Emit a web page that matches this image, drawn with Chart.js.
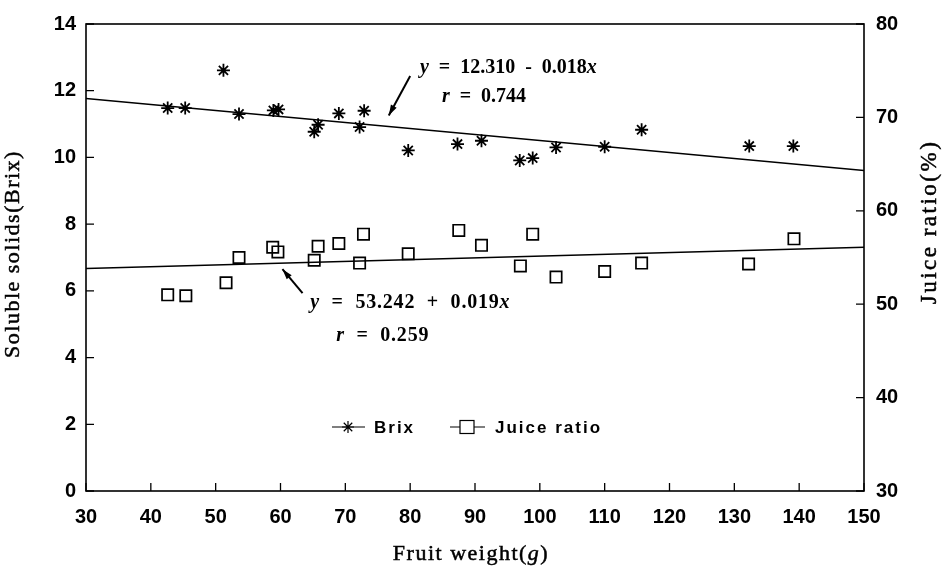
<!DOCTYPE html>
<html>
<head>
<meta charset="utf-8">
<script src="https://cdn.jsdelivr.net/npm/chart.js@4.4.1/dist/chart.umd.min.js"></script>
<style>
  html, body { margin: 0; padding: 0; background: #fff; }
  #wrap { width: 946px; height: 570px; }
</style>
</head>
<body>
<div id="wrap"><canvas id="fruitChart" width="946" height="570"></canvas></div>
<script>
// fruit weight (g) for each sample
const brixWeight  = [42.6, 45.3, 51.2, 53.6, 58.9, 59.7, 65.2, 65.8, 69.0, 72.2, 72.9, 79.7, 87.3, 91.0, 96.9, 98.9, 102.5, 110.0, 115.7, 132.3, 139.1];
const brixValue   = [11.48, 11.48, 12.61, 11.30, 11.41, 11.44, 10.77, 10.98, 11.32, 10.91, 11.40, 10.21, 10.40, 10.50, 9.91, 9.98, 10.30, 10.32, 10.83, 10.34, 10.34];
const juiceWeight = [42.6, 45.4, 51.6, 53.6, 58.8, 59.6, 65.2, 65.8, 69.0, 72.8, 72.2, 79.7, 87.5, 91.0, 97.0, 98.9, 102.5, 110.0, 115.7, 132.2, 139.2];
const juiceValue  = [51.0, 50.9, 52.3, 55.0, 56.1, 55.6, 54.7, 56.2, 56.5, 57.5, 54.4, 55.4, 57.9, 56.3, 54.1, 57.5, 52.9, 53.5, 54.4, 54.3, 57.0];

// regression line end points (x = 30 and x = 150)
const fitX      = [30, 150];
const brixFit   = [11.77, 9.61];
const juiceFit  = [53.81, 56.09];

const xTicks     = [30, 40, 50, 60, 70, 80, 90, 100, 110, 120, 130, 140, 150];
const brixTicks  = [0, 2, 4, 6, 8, 10, 12, 14];
const juiceTicks = [30, 40, 50, 60, 70, 80];

const toPoints = (xs, ys) => xs.map((v, i) => ({ x: v, y: ys[i] }));

const tickFont = { family: 'Liberation Sans', size: 20, weight: 'bold' };

// write a text run made of [text, italic] pieces
function drawRuns(ctx, runs, x, y, size) {
    runs.forEach(([txt, ital]) => {
        ctx.font = (ital ? 'italic ' : '') + 'bold ' + size + 'px "Liberation Serif"';
        ctx.fillText(txt, x, y);
        x += ctx.measureText(txt).width;
    });
}

// serif title, drawn a little heavier like the scanned print
function heavyText(ctx, txt, x, y) {
    ctx.fillText(txt, x, y);
    ctx.strokeText(txt, x, y);
}

function arrow(ctx, x0, y0, x1, y1) {
    const ang = Math.atan2(y1 - y0, x1 - x0);
    ctx.beginPath();
    ctx.moveTo(x0, y0);
    ctx.lineTo(x1, y1);
    ctx.stroke();
    ctx.beginPath();
    ctx.moveTo(x1, y1);
    ctx.lineTo(x1 - 11 * Math.cos(ang - 0.3), y1 - 11 * Math.sin(ang - 0.3));
    ctx.lineTo(x1 - 11 * Math.cos(ang + 0.3), y1 - 11 * Math.sin(ang + 0.3));
    ctx.closePath();
    ctx.fill();
}

const framePlugin = {
    id: 'framePlugin',
    afterDraw(chart) {
        const { ctx, chartArea: a, scales } = chart;
        const { x, y, y1 } = scales;
        ctx.save();
        ctx.strokeStyle = '#000';
        ctx.fillStyle = '#000';

        // box
        ctx.lineWidth = 1.6;
        ctx.strokeRect(a.left, a.top, a.right - a.left, a.bottom - a.top);

        // inward ticks
        ctx.lineWidth = 1.3;
        ctx.beginPath();
        x.ticks.forEach(t => {
            const px = x.getPixelForValue(t.value);
            ctx.moveTo(px, a.bottom); ctx.lineTo(px, a.bottom - 8);
        });
        y.ticks.forEach(t => {
            const py = y.getPixelForValue(t.value);
            ctx.moveTo(a.left, py); ctx.lineTo(a.left + 8, py);
        });
        y1.ticks.forEach(t => {
            const py = y1.getPixelForValue(t.value);
            ctx.moveTo(a.right, py); ctx.lineTo(a.right - 8, py);
        });
        ctx.stroke();

        // axis titles
        ctx.lineWidth = 0.5;
        ctx.font = '22px "Liberation Serif"';
        ctx.textBaseline = 'middle';
        ctx.textAlign = 'center';
        ctx.letterSpacing = '1.5px';
        ctx.save();
        ctx.translate(13, 254);
        ctx.rotate(-Math.PI / 2);
        heavyText(ctx, 'Soluble solids(Brix)', 0, 0);
        ctx.restore();

        ctx.save();
        ctx.translate(930, 222);
        ctx.rotate(-Math.PI / 2);
        ctx.font = '23px "Liberation Serif"';
        ctx.letterSpacing = '2.5px';
        heavyText(ctx, 'Juice ratio(%)', 0, 0);
        ctx.restore();

        ctx.textBaseline = 'alphabetic';
        ctx.font = '22px "Liberation Serif"';
        const t1 = 'Fruit weight(';
        const t2 = 'g';
        const t3 = ')';
        const w1 = ctx.measureText(t1).width;
        const w3 = ctx.measureText(t3).width;
        ctx.font = 'italic 22px "Liberation Serif"';
        const w2 = ctx.measureText(t2).width;
        let bx = 471 - (w1 + w2 + w3) / 2;
        ctx.textAlign = 'left';
        ctx.font = '22px "Liberation Serif"';
        heavyText(ctx, t1, bx, 560); bx += w1;
        ctx.font = 'italic 22px "Liberation Serif"';
        heavyText(ctx, t2, bx, 560); bx += w2;
        ctx.font = '22px "Liberation Serif"';
        heavyText(ctx, t3, bx, 560);
        ctx.letterSpacing = '0px';

        // equations
        ctx.textAlign = 'left';
        drawRuns(ctx, [['y', true], ['  =  12.310  -  0.018', false], ['x', true]],
            x.getPixelForValue(81.5), y.getPixelForValue(12.53), 20);
        drawRuns(ctx, [['r', true], ['  =  0.744', false]],
            x.getPixelForValue(84.9), y.getPixelForValue(11.65), 20);
        ctx.letterSpacing = '0.8px';
        drawRuns(ctx, [['y', true], ['  =  53.242  +  0.019', false], ['x', true]],
            x.getPixelForValue(64.6), y.getPixelForValue(5.5), 20);
        drawRuns(ctx, [['r', true], ['  =  0.259', false]],
            x.getPixelForValue(68.6), y.getPixelForValue(4.49), 20);
        ctx.letterSpacing = '0px';

        ctx.lineWidth = 2;
        arrow(ctx, x.getPixelForValue(80.0), y.getPixelForValue(12.44),
                   x.getPixelForValue(76.7), y.getPixelForValue(11.26));
        arrow(ctx, x.getPixelForValue(63.4), y.getPixelForValue(5.93),
                   x.getPixelForValue(60.3), y.getPixelForValue(6.65));

        // legend
        const ly = 427;
        ctx.lineWidth = 1.2;
        ctx.beginPath();
        ctx.moveTo(332, ly); ctx.lineTo(365, ly);
        ctx.moveTo(450, ly); ctx.lineTo(485, ly);
        ctx.stroke();
        // star marker
        const sx = 348, r = 6;
        ctx.beginPath();
        for (let k = 0; k < 4; k++) {
            const ang = k * Math.PI / 4;
            ctx.moveTo(sx - r * Math.cos(ang), ly - r * Math.sin(ang));
            ctx.lineTo(sx + r * Math.cos(ang), ly + r * Math.sin(ang));
        }
        ctx.stroke();
        // square marker
        ctx.fillStyle = '#fff';
        ctx.fillRect(460, ly - 6.5, 14, 13);
        ctx.strokeRect(460, ly - 6.5, 14, 13);
        ctx.fillStyle = '#000';
        ctx.font = 'bold 17px "Liberation Sans"';
        ctx.letterSpacing = '2px';
        ctx.textBaseline = 'middle';
        ctx.fillText('Brix', 374, ly + 1);
        ctx.fillText('Juice ratio', 495, ly + 1);
        ctx.letterSpacing = '0px';

        ctx.restore();
    }
};

new Chart(document.getElementById('fruitChart'), {
    type: 'scatter',
    data: {
        datasets: [
            {
                label: 'Brix',
                data: toPoints(brixWeight, brixValue),
                yAxisID: 'y',
                pointStyle: 'star',
                pointRadius: 6.5,
                borderColor: '#000',
                backgroundColor: '#000',
                pointBorderWidth: 1.8
            },
            {
                label: 'Juice ratio',
                data: toPoints(juiceWeight, juiceValue),
                yAxisID: 'y1',
                pointStyle: 'rect',
                pointRadius: 8,
                borderColor: '#000',
                backgroundColor: 'rgba(0,0,0,0)',
                pointBorderWidth: 1.7
            },
            {
                label: 'Brix fit',
                data: toPoints(fitX, brixFit),
                yAxisID: 'y',
                showLine: true,
                pointRadius: 0,
                borderColor: '#000',
                borderWidth: 1.5
            },
            {
                label: 'Juice fit',
                data: toPoints(fitX, juiceFit),
                yAxisID: 'y1',
                showLine: true,
                pointRadius: 0,
                borderColor: '#000',
                borderWidth: 1.5
            }
        ]
    },
    options: {
        responsive: false,
        animation: false,
        layout: { padding: { top: 15, right: 0, left: 0, bottom: 0 } },
        plugins: {
            legend: { display: false },
            tooltip: { enabled: false }
        },
        scales: {
            x: {
                type: 'linear',
                min: 30,
                max: 150,
                afterBuildTicks: s => { s.ticks = xTicks.map(v => ({ value: v })); },
                afterFit: s => { s.height = 79; },
                grid: { display: false, drawTicks: false },
                border: { display: false },
                ticks: { color: '#000', font: tickFont, padding: 14, maxRotation: 0 }
            },
            y: {
                position: 'left',
                min: 0,
                max: 14,
                afterBuildTicks: s => { s.ticks = brixTicks.map(v => ({ value: v })); },
                afterFit: s => { s.width = 86; },
                grid: { display: false, drawTicks: false },
                border: { display: false },
                ticks: { color: '#000', font: tickFont, padding: 10 }
            },
            y1: {
                position: 'right',
                min: 30,
                max: 80,
                afterBuildTicks: s => { s.ticks = juiceTicks.map(v => ({ value: v })); },
                afterFit: s => { s.width = 82; },
                grid: { display: false, drawTicks: false },
                border: { display: false },
                ticks: { color: '#000', font: tickFont, padding: 12 }
            }
        }
    },
    plugins: [framePlugin]
});
</script>
</body>
</html>
